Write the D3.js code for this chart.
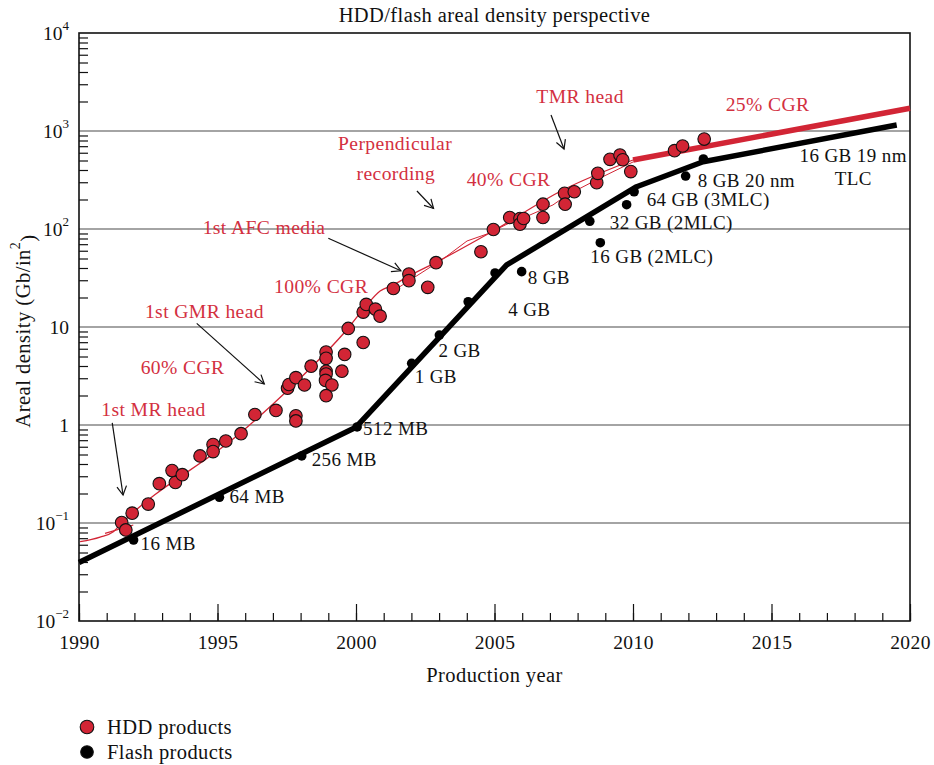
<!DOCTYPE html>
<html>
<head>
<meta charset="utf-8">
<script src="https://cdn.jsdelivr.net/npm/d3@7"></script>
<style>
  body { margin: 0; background: #fff; }
  svg { display: block; font-family: "Liberation Serif", "Times New Roman", serif; }
</style>
</head>
<body>
<svg id="chart" width="934" height="765"></svg>
<script>
// ---- Data -------------------------------------------------------------
// HDD products: production year and areal density (Gb/in^2)
const hddYears = [
  1991.54, 1991.69, 1991.92, 1992.50, 1992.90, 1993.36, 1993.48, 1993.73,
  1994.37, 1994.84, 1994.84, 1995.30, 1995.85, 1996.35, 1997.11, 1997.83,
  1997.83, 1997.53, 1997.58, 1997.83, 1998.14, 1998.38, 1998.92, 1998.92,
  1998.92, 1998.92, 1998.90, 1999.13, 1998.92, 1999.49, 1999.59, 1999.72,
  2000.26, 2000.26, 2000.37, 2000.70, 2000.87, 2001.35, 2001.91, 2001.91,
  2002.59, 2002.89, 2004.51, 2004.96, 2005.55, 2005.92, 2005.92, 2006.05,
  2006.75, 2006.75, 2007.53, 2007.55, 2007.88, 2008.69, 2008.73, 2009.17,
  2009.53, 2009.63, 2009.92, 2011.50, 2011.79, 2012.57
];
const hddDensity = [
  0.101, 0.0849, 0.126, 0.156, 0.252, 0.343, 0.259, 0.311,
  0.483, 0.632, 0.535, 0.687, 0.815, 1.28, 1.41, 1.24,
  1.10, 2.37, 2.59, 3.04, 2.56, 3.98, 5.56, 4.79,
  3.53, 3.31, 2.85, 2.56, 1.99, 3.54, 5.25, 9.66,
  6.95, 14.2, 17.0, 15.2, 12.9, 24.7, 34.7, 29.7,
  25.4, 45.3, 58.6, 98.8, 131, 128, 112, 128,
  179, 131, 231, 179, 240, 297, 370, 514,
  569, 509, 385, 630, 703, 828
];

// Flash products
const flashYears   = [1991.97, 1995.07, 1998.04, 2000.04, 2002.01, 2003.01, 2004.05, 2005.02,
                      2005.98, 2008.44, 2008.82, 2009.77, 2010.04, 2011.90, 2012.54];
const flashDensity = [0.0671, 0.183, 0.483, 0.955, 4.26, 8.28, 18.1, 35.6,
                      36.7, 120, 72.5, 177, 240, 347, 518];
const flashLabels  = ["16 MB", "64 MB", "256 MB", "512 MB", "1 GB", "2 GB", "4 GB", "",
                      "8 GB", "32 GB (2MLC)", "16 GB (2MLC)", "64 GB (3MLC)", "", "8 GB 20 nm", ""];

// Flash density trend
const flashTrendYears   = [1990, 2000, 2005.44, 2010.13, 2012.53, 2019.52];
const flashTrendDensity = [0.0395, 0.95, 43, 270, 486, 1150];

// HDD density trend (thin curve) and its companion fit
const hddTrendYears   = [1990.04, 1990.76, 1991.24, 1991.54, 1995.81, 1997.62, 1999.72,
                         2000.36, 2000.87, 2001.34, 2001.91, 2002.91, 2004.95, 2007.47, 2010.0];
const hddTrendDensity = [0.0644, 0.0719, 0.0815, 0.0993, 0.822, 2.39, 9.77,
                         16.4, 23.3, 26.8, 33.1, 46.0, 95.5, 250, 506];
const hddFitYears     = [2001.34, 2003.14, 2004.01, 2004.73, 2005.45, 2006.28, 2007.11,
                         2007.62, 2008.81, 2010.0];
const hddFitDensity   = [23.3, 49.4, 75.5, 88.9, 112, 139, 176, 222, 331, 483];
const hddEarlyYears   = [1990.94, 1991.96];
const hddEarlyDensity = [0.0785, 0.0955];

// HDD projection at 25% CGR
const hddProjectionYears   = [2010, 2020];
const hddProjectionDensity = [506, 1706];

// Axis ticks
const xTickYears  = d3.range(1990, 2021);
const xMajorYears = [1990, 1995, 2000, 2005, 2010, 2015, 2020];
const yDecades    = [0.01, 0.1, 1, 10, 100, 1000, 10000];
const yTickLabels = [["10", "\u22122"], ["10", "\u22121"], ["1", ""], ["10", ""],
                     ["10", "2"], ["10", "3"], ["10", "4"]];

// Text annotations (year, density)
const noteText    = ["1st MR head", "60% CGR", "1st GMR head", "100% CGR", "1st AFC media",
                     "Perpendicular", "recording", "40% CGR", "TMR head", "25% CGR",
                     "16 GB 19 nm", "TLC"];
const noteYears   = [1992.69, 1993.74, 1994.53, 1998.74, 1996.68, 2001.41, 2001.44,
                     2005.51, 2008.09, 2014.86, 2017.95, 2017.95];
const noteDensity = [1.46, 3.91, 14.6, 26.2, 105, 755, 372, 324, 2275, 1888, 569, 331];
const noteRed     = [true, true, true, true, true, true, true, true, true, true, false, false];

// Arrows: [fromYear, fromDensity, toYear, toDensity]
const arrowFrom = [[1991.20, 1.05], [1994.25, 10.9], [1999.0, 80.4], [2002.2, 244], [2007.04, 1455]];
const arrowTo   = [[1991.59, 0.193], [1996.69, 2.62], [2001.62, 37.5], [2002.80, 162], [2007.51, 655]];

// ---- Layout -----------------------------------------------------------
const RED = "#d22535";
const TEXT_RED = "#d3303f";
const FS = 19;        // point labels and tick labels
const FS_NOTE = 19.6; // red annotations
const FS_TITLE = 20.5;
const plot = { left: 79, right: 910, top: 33, bottom: 621 };

const svg = d3.select("#chart");
const x = d3.scaleLinear().domain([1990, 2020]).range([plot.left, plot.right]);
const y = d3.scaleLog().domain([0.01, 10000]).range([plot.bottom, plot.top]);

// Horizontal decade grid lines
svg.append("g")
  .selectAll("line")
  .data(yDecades.slice(1, -1))
  .join("line")
  .attr("x1", plot.left).attr("x2", plot.right)
  .attr("y1", d => y(d)).attr("y2", d => y(d))
  .attr("stroke", "#4a4a4a").attr("stroke-width", 1.2);

// X axis: yearly minor ticks, 5-year major ticks with labels
const xMinor = svg.append("g").attr("transform", `translate(0,${plot.bottom})`)
  .call(d3.axisBottom(x).tickValues(xTickYears).tickSize(-8).tickFormat(""));
const xMajor = svg.append("g").attr("transform", `translate(0,${plot.bottom})`)
  .call(d3.axisBottom(x).tickValues(xMajorYears).tickSize(-17).tickPadding(14).tickFormat(d3.format("d")));
[xMinor, xMajor].forEach(g => {
  g.select(".domain").remove();
  g.selectAll("line").attr("stroke", "#111").attr("stroke-width", 1.2);
});
xMajor.selectAll("text").attr("font-size", 19.5).attr("fill", "#111")
  .attr("font-family", "Liberation Serif, serif").attr("letter-spacing", 0.4);

// Y axis: log minor ticks
const yMinorVals = [];
yDecades.slice(0, -1).forEach(d => { for (let k = 2; k <= 9; k++) yMinorVals.push(d * k); });
const yMinor = svg.append("g").attr("transform", `translate(${plot.left},0)`)
  .call(d3.axisLeft(y).tickValues(yMinorVals).tickSize(-9).tickFormat(""));
yMinor.select(".domain").remove();
yMinor.selectAll("line").attr("stroke", "#111").attr("stroke-width", 1.2);

// Y decade labels with superscript exponents
const yLab = svg.append("g").attr("font-size", 19.5).attr("fill", "#111").attr("text-anchor", "end");
yDecades.forEach((d, i) => {
  const [base, exp] = yTickLabels[i];
  const t = yLab.append("text").attr("x", plot.left - 10).attr("y", y(d)).attr("dy", "0.35em");
  t.append("tspan").text(base);
  if (exp) t.append("tspan").attr("font-size", 13).attr("dy", "-0.75em").text(exp);
});

// Plot frame
svg.append("rect")
  .attr("x", plot.left).attr("y", plot.top)
  .attr("width", plot.right - plot.left).attr("height", plot.bottom - plot.top)
  .attr("fill", "none").attr("stroke", "#111").attr("stroke-width", 1.6);

// HDD trend lines
const zip = (a, b) => a.map((v, i) => [v, b[i]]);
const straight = d3.line().x(d => x(d[0])).y(d => y(d[1]));
const smooth = d3.line().x(d => x(d[0])).y(d => y(d[1])).curve(d3.curveMonotoneX);

svg.append("path").datum(zip(hddFitYears, hddFitDensity))
  .attr("d", straight)
  .attr("fill", "none").attr("stroke", RED).attr("stroke-width", 1);
svg.append("path").datum(zip(hddEarlyYears, hddEarlyDensity))
  .attr("d", straight)
  .attr("fill", "none").attr("stroke", RED).attr("stroke-width", 1.2);
svg.append("path").datum(zip(hddTrendYears, hddTrendDensity))
  .attr("d", smooth)
  .attr("fill", "none").attr("stroke", RED).attr("stroke-width", 1.3);

// HDD projection (25% CGR)
svg.append("path").datum(zip(hddProjectionYears, hddProjectionDensity))
  .attr("d", straight)
  .attr("fill", "none").attr("stroke", RED).attr("stroke-width", 5.5);

// Flash trend
svg.append("path").datum(zip(flashTrendYears, flashTrendDensity))
  .attr("d", straight)
  .attr("fill", "none").attr("stroke", "#000").attr("stroke-width", 5.5)
  .attr("stroke-linejoin", "round");

// HDD product points
svg.append("g")
  .selectAll("circle")
  .data(zip(hddYears, hddDensity))
  .join("circle")
  .attr("cx", d => x(d[0])).attr("cy", d => y(d[1])).attr("r", 6.3)
  .attr("fill", RED).attr("stroke", "#111").attr("stroke-width", 1.1);

// Flash product points
svg.append("g")
  .selectAll("circle")
  .data(zip(flashYears, flashDensity))
  .join("circle")
  .attr("cx", d => x(d[0])).attr("cy", d => y(d[1])).attr("r", 4.8)
  .attr("fill", "#000");

// Flash point labels, offset from each point
const flashLabelOffsets = [[7, 3], [10, -1], [10, 3], [6, 1], [3, 13], [-1, 15], [40, 8], [0, 0],
                           [6, 6], [20, 1], [-10, 14], [20, -5], [0, 0], [12, 4], [0, 0]];
svg.append("g").attr("font-size", FS).attr("fill", "#111")
  .selectAll("text")
  .data(flashYears.map((yr, i) => ({ yr, v: flashDensity[i], t: flashLabels[i], o: flashLabelOffsets[i] }))
        .filter(d => d.t))
  .join("text")
  .attr("x", d => x(d.yr) + d.o[0]).attr("y", d => y(d.v) + d.o[1]).attr("dy", "0.35em")
  .attr("letter-spacing", 0.4)
  .text(d => d.t);

// Annotation texts
svg.append("g").attr("text-anchor", "middle")
  .selectAll("text")
  .data(noteText.map((t, i) => ({ t, yr: noteYears[i], v: noteDensity[i], red: noteRed[i] })))
  .join("text")
  .attr("x", d => x(d.yr)).attr("y", d => y(d.v)).attr("dy", "0.35em")
  .attr("font-size", d => d.red ? FS_NOTE : FS)
  .attr("fill", d => d.red ? TEXT_RED : "#111")
  .attr("letter-spacing", 0.4)
  .text(d => d.t);

// Annotation arrows with open heads
const arrows = svg.append("g").attr("stroke", "#111").attr("stroke-width", 1.2).attr("fill", "none");
arrowFrom.forEach((f, i) => {
  const x1 = x(f[0]), y1 = y(f[1]), x2 = x(arrowTo[i][0]), y2 = y(arrowTo[i][1]);
  arrows.append("line").attr("x1", x1).attr("y1", y1).attr("x2", x2).attr("y2", y2);
  const a = Math.atan2(y2 - y1, x2 - x1), L = 10, s = 0.5;
  arrows.append("path").attr("d",
    `M${x2 - L * Math.cos(a - s)},${y2 - L * Math.sin(a - s)}L${x2},${y2}L${x2 - L * Math.cos(a + s)},${y2 - L * Math.sin(a + s)}`);
});

// Title and axis titles
svg.append("text").attr("x", (plot.left + plot.right) / 2).attr("y", 15).attr("dy", "0.35em")
  .attr("text-anchor", "middle").attr("font-size", FS_TITLE).attr("fill", "#111").attr("letter-spacing", 0.4)
  .text("HDD/flash areal density perspective");

svg.append("text").attr("x", (plot.left + plot.right) / 2).attr("y", 675).attr("dy", "0.35em")
  .attr("text-anchor", "middle").attr("font-size", FS_TITLE).attr("fill", "#111").attr("letter-spacing", 0.4)
  .text("Production year");

const yTitle = svg.append("text")
  .attr("transform", "translate(30,331) rotate(-90)")
  .attr("text-anchor", "middle").attr("font-size", 20.5).attr("fill", "#111").attr("letter-spacing", 0.5);
yTitle.append("tspan").text("Areal density (Gb/in");
yTitle.append("tspan").attr("font-size", 14).attr("dy", "-0.7em").text("2");
yTitle.append("tspan").attr("dy", "0.7em").text(")");

// Legend
const legendItems = [["HDD products", RED, 6.8], ["Flash products", "#000", 6.3]];
const legend = svg.append("g").attr("font-size", 20.5).attr("fill", "#111");
legendItems.forEach((d, i) => {
  const cy = 727 + i * 25;
  legend.append("circle").attr("cx", 87).attr("cy", cy).attr("r", d[2])
    .attr("fill", d[1]).attr("stroke", "#111").attr("stroke-width", 1.1);
  legend.append("text").attr("x", 107).attr("y", cy).attr("dy", "0.35em")
    .attr("letter-spacing", 0.4).text(d[0]);
});
</script>
</body>
</html>
